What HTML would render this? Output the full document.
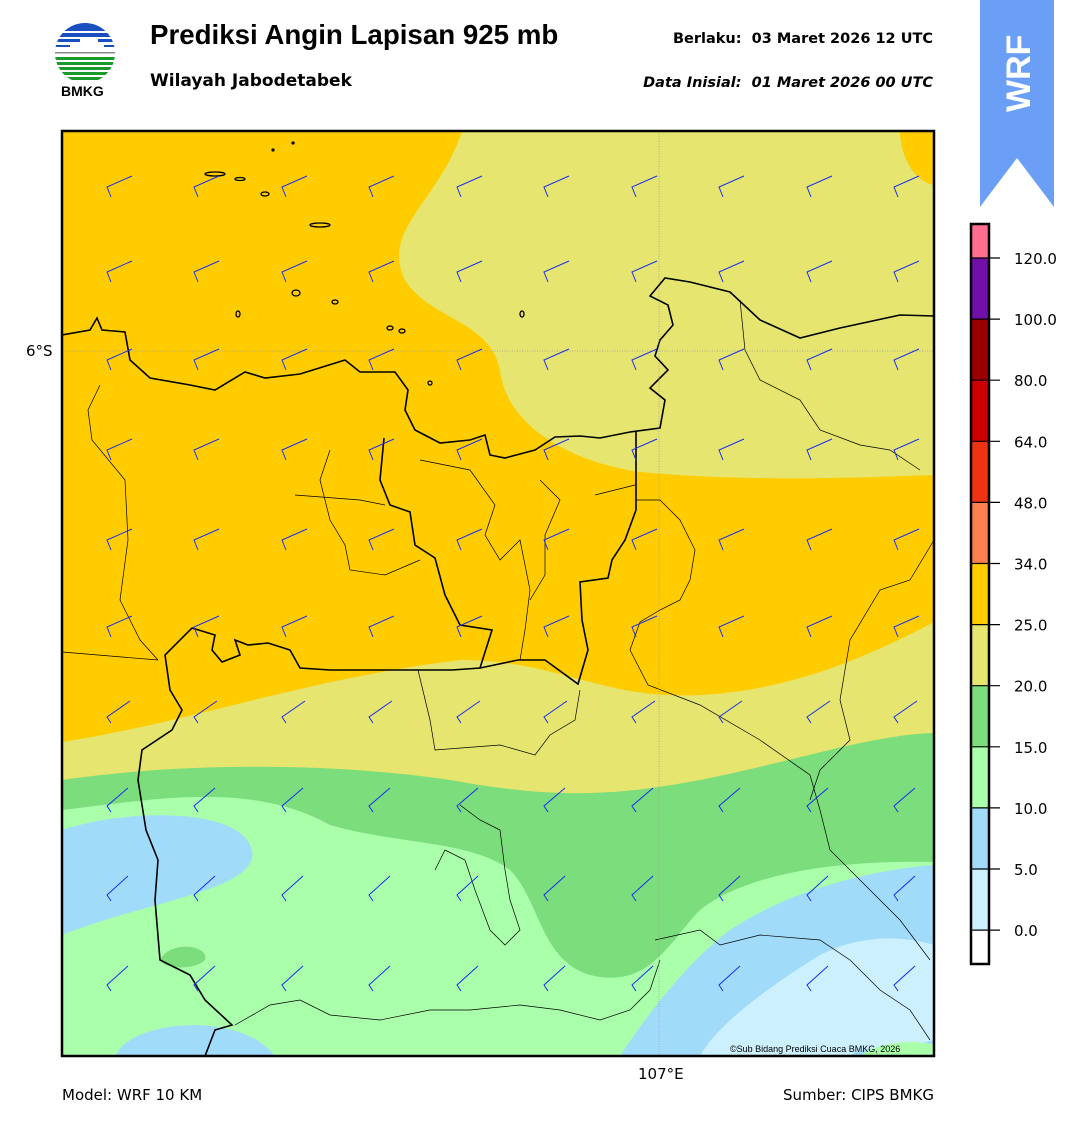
<!DOCTYPE html>
<html><head><meta charset="utf-8">
<style>
body{margin:0;width:1081px;height:1128px;background:#fff;font-family:"DejaVu Sans",sans-serif;position:relative;overflow:hidden}
.t{position:absolute;white-space:nowrap;color:#000}
</style></head><body>
<svg width="1081" height="1128" style="position:absolute;left:0;top:0">
<defs><clipPath id="lc"><circle cx="85" cy="53" r="30"/></clipPath>
<clipPath id="mc"><rect x="62" y="131" width="872" height="925"/></clipPath></defs>
<g clip-path="url(#lc)">
<rect x="55" y="23" width="60" height="8" fill="#1a4fc0"/>
<rect x="55" y="33" width="60" height="4" fill="#1a4fc0"/>
<rect x="55" y="39" width="25" height="3" fill="#1a4fc0"/><rect x="98" y="39" width="20" height="3" fill="#1a4fc0"/>
<rect x="55" y="45" width="15" height="2" fill="#1a4fc0"/><rect x="104" y="45" width="15" height="2" fill="#1a4fc0"/>
<rect x="55" y="52" width="60" height="1.5" fill="#888"/>
<rect x="55" y="57" width="60" height="3" fill="#1a9a2a"/>
<rect x="55" y="62" width="60" height="3" fill="#1a9a2a"/>
<rect x="55" y="67" width="60" height="3" fill="#1a9a2a"/>
<rect x="55" y="72" width="60" height="3" fill="#1a9a2a"/>
<rect x="55" y="77" width="60" height="3" fill="#1a9a2a"/>
</g>
<path d="M980 0 H1054 V207 L1017 158 L980 207 Z" fill="#6a9ff5"/>
<text x="1030" y="112" transform="rotate(-90 1030 112)" fill="#fff" font-size="34" font-weight="bold" font-family="Liberation Sans">WRF</text>
<g clip-path="url(#mc)">
<rect x="62" y="131" width="872" height="925" fill="#ffcc00"/>
<path d="M462 131 C440 200 380 230 405 280 C430 320 490 320 500 370 C505 420 560 460 640 472 C750 482 850 478 934 475 V185 C910 180 900 150 900 131 Z" fill="#e5e56f"/>
<path d="M62 742 C200 720 300 680 460 660 C560 660 600 700 700 695 C800 690 880 650 934 622 V1056 H62 Z" fill="#e5e56f"/>
<path d="M62 780 C200 760 350 765 450 780 C560 800 620 795 700 780 C800 760 870 735 934 733 V1056 H62 Z" fill="#7bdd7b"/>
<path d="M62 810 C150 800 250 780 330 825 C400 845 470 840 510 870 C540 900 540 960 590 975 C650 990 670 940 700 910 C750 870 850 860 934 862 V1056 H62 Z" fill="#aaffaa"/>
<path d="M160 960 C170 940 210 945 205 960 C195 970 165 970 160 960Z" fill="#7bdd7b"/>
<path d="M62 830 C120 810 240 805 252 850 C260 890 150 900 62 935 Z" fill="#a0dcfa"/>
<path d="M115 1056 C130 1020 240 1010 275 1056 Z" fill="#a0dcfa"/>
<path d="M620 1056 C650 1010 690 960 730 930 C790 890 870 870 934 865 V1056 Z" fill="#a0dcfa"/>
<path d="M700 1056 C720 1020 780 980 820 955 C860 935 900 935 934 945 V1040 C900 1050 860 1045 850 1056 Z" fill="#cdf0fe"/>
<path d="M860 1056 C880 1040 920 1040 934 1045 V1056Z" fill="#aaffaa"/>
<g fill="none" stroke="#000" stroke-width="1.6">
<path d="M62 335 L90 330 L97 318 L102 330 L125 332 L130 360 L150 378 L190 385 L215 390 L245 372 L265 378 L300 374 L345 360 L360 372 L395 372 L408 390 L405 410 L415 430 L440 443 L470 440 L485 435 L490 455 L505 458 L535 450 L555 437 L580 436 L600 438 L630 432 L660 428 L665 400 L650 388 L668 370 L655 356 L660 340 L673 325 L668 305 L650 296 L665 278 L690 282 L730 292 L760 320 L800 338 L840 328 L900 315 L934 316"/>
<path d="M384 438 L380 480 L390 505 L410 512 L415 545 L435 558 L445 595 L460 625 L492 630 L480 668 L452 670 L330 670 L300 668 L290 650 L268 643 L248 645 L235 640 L240 655 L222 662 L212 650 L215 635 L192 628 L165 655 L170 690 L182 710 L172 730 L142 750 L138 780 L146 830 L158 860 L155 900 L160 960 L190 975 L205 1000 L232 1025 L215 1030 L205 1056"/>
<path d="M636 432 L636 510 L625 540 L612 560 L608 578 L580 582 L582 620 L588 650 L578 684 L545 660 L518 660 L480 668"/>
</g>
<g fill="none" stroke="#000" stroke-width="0.7">
<path d="M100 385 L88 410 L92 440 L125 480 L128 540 L120 600 L140 640 L158 660"/>
<path d="M62 652 L158 660"/>
<path d="M330 450 L320 480 L330 520 L345 545 L350 570 L385 575 L420 560"/>
<path d="M295 495 L360 500 L385 505"/>
<path d="M420 460 L470 470 L495 505 L485 535 L500 560 L520 540 L530 590 L525 630 L520 660"/>
<path d="M540 480 L560 500 L545 535 L545 575 L530 600"/>
<path d="M595 495 L635 485"/>
<path d="M636 500 L660 500 L680 520 L695 550 L690 580 L680 600 L660 610 L640 622 L630 650 L648 685 L700 705 L760 740 L810 775 L820 810 L830 850 L860 880 L900 920 L930 960"/>
<path d="M418 670 L430 720 L435 750 L500 745 L535 755 L550 735 L575 720 L580 690"/>
<path d="M740 300 L745 350 L760 380 L800 400 L820 430 L860 445 L890 450 L920 470"/>
<path d="M934 540 L910 580 L880 590 L850 640 L840 700 L850 740 L820 770 L810 800"/>
<path d="M460 805 L480 820 L500 830 L505 870 L510 900 L520 930 L505 945 L490 930 L475 890 L465 860 L445 850 L435 870"/>
<path d="M655 940 L700 930 L720 945 L760 935 L820 940 L850 960 L880 990 L910 1010 L930 1040"/>
<path d="M235 1025 L270 1005 L300 1000 L330 1015 L380 1020 L430 1010 L470 1010 L520 1005 L560 1010 L600 1020 L630 1010 L650 990 L660 960"/>
</g>
<g fill="none" stroke="#000" stroke-width="1.3">
<ellipse cx="265" cy="194" rx="4" ry="2"/><ellipse cx="240" cy="179" rx="5" ry="1.5"/><ellipse cx="215" cy="174" rx="10" ry="2"/>
<ellipse cx="320" cy="225" rx="10" ry="2"/><ellipse cx="296" cy="293" rx="4" ry="3"/><ellipse cx="335" cy="302" rx="3" ry="2"/>
<ellipse cx="238" cy="314" rx="2" ry="3"/><ellipse cx="390" cy="328" rx="3" ry="2"/><ellipse cx="402" cy="331" rx="3" ry="2"/>
<ellipse cx="430" cy="383" rx="2" ry="2"/><ellipse cx="522" cy="314" rx="2" ry="3"/><ellipse cx="273" cy="150" rx="1" ry="1"/><ellipse cx="293" cy="143" rx="1" ry="1"/>
</g>
<line x1="62" y1="351" x2="934" y2="351" stroke="#999" stroke-width="0.7" stroke-dasharray="1 1.5"/>
<line x1="659" y1="131" x2="659" y2="1056" stroke="#999" stroke-width="0.7" stroke-dasharray="1 1.5"/>
<g id="barbs" fill="none" stroke="#1a2ef5" stroke-width="1"></g>
</g>
<rect x="62" y="131" width="872" height="925" fill="none" stroke="#000" stroke-width="2.5"/>
<text x="730" y="1052" font-size="9" font-family="Liberation Sans">©Sub Bidang Prediksi Cuaca BMKG, 2026</text>
<g>
<rect x="971" y="224" width="18" height="34" fill="#ff6e8e"/>
<rect x="971" y="258" width="18" height="61" fill="#7010a8"/>
<rect x="971" y="319" width="18" height="61" fill="#9a0000"/>
<rect x="971" y="380" width="18" height="61" fill="#cc0000"/>
<rect x="971" y="441" width="18" height="61" fill="#ee3313"/>
<rect x="971" y="502" width="18" height="61" fill="#fa8050"/>
<rect x="971" y="563" width="18" height="62" fill="#ffcc00"/>
<rect x="971" y="625" width="18" height="61" fill="#e5e56f"/>
<rect x="971" y="686" width="18" height="61" fill="#7bdd7b"/>
<rect x="971" y="747" width="18" height="61" fill="#aaffaa"/>
<rect x="971" y="808" width="18" height="61" fill="#a0dcfa"/>
<rect x="971" y="869" width="18" height="61" fill="#cdf0fe"/>
<rect x="971" y="930" width="18" height="34" fill="#fff"/>
<rect x="971" y="224" width="18" height="740" fill="none" stroke="#000" stroke-width="2.5"/>
<g stroke="#000" stroke-width="1.2" id="cbt"></g>
<g font-size="15" font-family="DejaVu Sans" id="cbl"></g>
</g>
</svg>
<div class="t" style="left:150px;top:19px;font-size:27.7px;font-weight:bold;font-family:'Liberation Sans'">Prediksi Angin Lapisan 925 mb</div>
<div class="t" style="left:150px;top:71px;font-size:17px;font-weight:bold">Wilayah Jabodetabek</div>
<div class="t" style="left:61px;top:83px;font-size:14px;font-weight:bold;font-family:'Liberation Sans'">BMKG</div>
<div class="t" style="right:148px;top:31px;font-size:14.5px;font-weight:bold">Berlaku:&nbsp; 03 Maret 2026 12 UTC</div>
<div class="t" style="right:148px;top:75px;font-size:14.5px;font-weight:bold;font-style:italic">Data Inisial:&nbsp; 01 Maret 2026 00 UTC</div>
<div class="t" style="left:26px;top:342px;font-size:15px">6°S</div>
<div class="t" style="left:638px;top:1065px;font-size:15px">107°E</div>
<div class="t" style="left:62px;top:1086px;font-size:15px">Model: WRF 10 KM</div>
<div class="t" style="right:147px;top:1086px;font-size:15px">Sumber: CIPS BMKG</div>
<script>
var g=document.getElementById("barbs"),s="";
var xs=[110,197,285,372,460,547,635,722,810,897],ys=[187,272,360,450,540,627,717,806,895,985];
var sh=[[25,-11],[25,-11],[25,-11],[25,-11],[25,-11],[25,-11],[23,-16],[21,-18],[21,-19],[21,-19]];
for(var j=0;j<10;j++)for(var i=0;i<10;i++){
 var x=xs[i]-3,y=ys[j],v=sh[j];
 s+='<path d="M'+(x+v[0])+' '+(y+v[1])+' L'+x+' '+y+' L'+(x+(j<6?4:4))+' '+(y+(j<6?10:6))+'"/>';
}
g.innerHTML=s;
var t="",l="",labs=["120.0","100.0","80.0","64.0","48.0","34.0","25.0","20.0","15.0","10.0","5.0","0.0"];
for(var k=0;k<12;k++){var yy=258+k*61.1;t+='<line x1="971" y1="'+yy+'" x2="1000" y2="'+yy+'"/>';l+='<text x="1014" y="'+(yy+6)+'">'+labs[k]+'</text>';}
document.getElementById("cbt").innerHTML=t;document.getElementById("cbl").innerHTML=l;
</script>
</body></html>
